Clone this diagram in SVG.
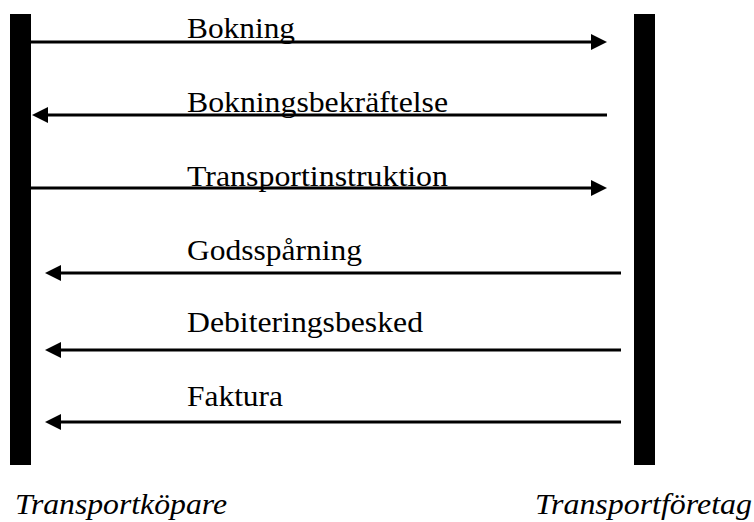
<svg xmlns="http://www.w3.org/2000/svg" width="754" height="522" viewBox="0 0 754 522">
  <style>
    .bar { fill: #000; }
    .msg { stroke: #000; stroke-width: 3; fill: none; marker-end: url(#head); }
    .lbl { font-family: 'Liberation Serif', serif; font-size: 30px; fill: #000; }
    .role { font-family: 'Liberation Serif', serif; font-size: 30px; font-style: italic; fill: #000; }
  </style>
  <defs>
    <marker id="head" viewBox="0 0 16 16" refX="6" refY="8" markerWidth="16" markerHeight="16" markerUnits="userSpaceOnUse" orient="auto">
      <path d="M0,0 L16,8 L0,16 z" fill="#000"/>
    </marker>
  </defs>
  <rect width="754" height="522" fill="#fff"/>

  <!-- lifelines -->
  <g id="transportkopare">
    <rect class="bar" x="10" y="14" width="21" height="451"/>
    <text class="role" font-family="Liberation Serif" x="15" y="514" textLength="212" lengthAdjust="spacingAndGlyphs">Transportköpare</text>
  </g>
  <g id="transportforetag">
    <rect class="bar" x="634" y="14" width="21" height="451"/>
    <text class="role" font-family="Liberation Serif" x="535" y="514" textLength="217" lengthAdjust="spacingAndGlyphs">Transportföretag</text>
  </g>

  <!-- messages -->
  <g id="connectors">
    <line class="msg" x1="31" y1="42" x2="597" y2="42"/>
    <line class="msg" x1="607" y1="115" x2="42" y2="115"/>
    <line class="msg" x1="31" y1="188" x2="597" y2="188"/>
    <line class="msg" x1="621" y1="273" x2="55" y2="273"/>
    <line class="msg" x1="621" y1="350" x2="55" y2="350"/>
    <line class="msg" x1="621" y1="422" x2="55" y2="422"/>
  </g>

  <g id="labels">
    <text class="lbl" font-family="Liberation Serif" x="187" y="38" textLength="108" lengthAdjust="spacingAndGlyphs">Bokning</text>
    <text class="lbl" font-family="Liberation Serif" x="187" y="112" textLength="261" lengthAdjust="spacingAndGlyphs">Bokningsbekräftelse</text>
    <text class="lbl" font-family="Liberation Serif" x="187" y="186" textLength="261" lengthAdjust="spacingAndGlyphs">Transportinstruktion</text>
    <text class="lbl" font-family="Liberation Serif" x="187" y="260" textLength="175" lengthAdjust="spacingAndGlyphs">Godsspårning</text>
    <text class="lbl" font-family="Liberation Serif" x="187" y="332" textLength="236" lengthAdjust="spacingAndGlyphs">Debiteringsbesked</text>
    <text class="lbl" font-family="Liberation Serif" x="187" y="406" textLength="96" lengthAdjust="spacingAndGlyphs">Faktura</text>
  </g>
</svg>
